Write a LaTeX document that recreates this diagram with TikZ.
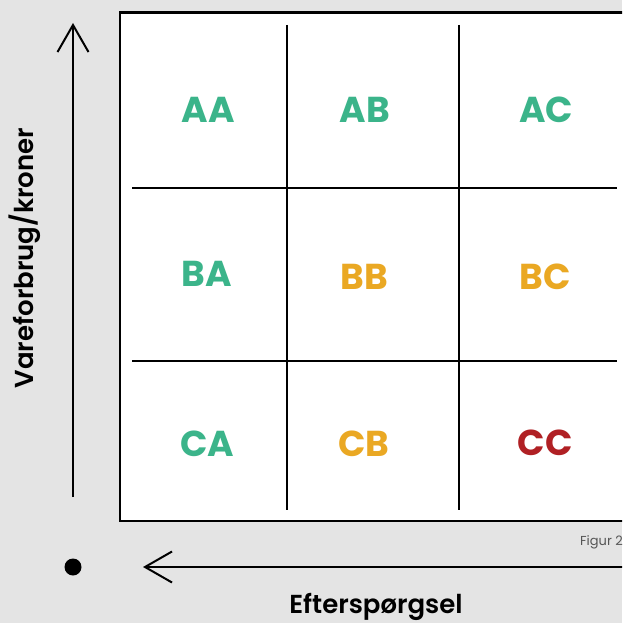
\documentclass[tikz,border=0pt]{standalone}
\usepackage{fontspec}
\setmainfont{Poppins}[BoldFont={Poppins SemiBold}]
\newfontfamily\heavyfont{Poppins}[UprightFont={* Bold}]
\usetikzlibrary{arrows.meta}
\definecolor{bggray}{HTML}{E4E4E4}
\definecolor{cgreen}{HTML}{3BB48A}
\definecolor{corange}{HTML}{EAA823}
\definecolor{cred}{HTML}{B02024}
\definecolor{capgray}{HTML}{555555}
\tikzset{
  cell/.style={font=\fontsize{36}{36}\selectfont\heavyfont, inner sep=0pt},
  grid/.style={line width=2pt, black},
  axis/.style={line width=2pt, black, -{Straight Barb[length=27pt,width=31pt,line width=2pt]}},
  axislabel/.style={font=\fontsize{26}{26}\selectfont\bfseries, inner sep=0pt},
}
\begin{document}
\begin{tikzpicture}[x=1pt,y=-1pt]
  % background and bounds
  \fill[bggray] (0,0) rectangle (622,623);
  \useasboundingbox (0,0) rectangle (622,623);
  \begin{scope}
    \clip (0,0) rectangle (622,623);
    % matrix frame
    \draw[line width=2.3pt, fill=white] (120,12.5) rectangle (630,521);
  \end{scope}
  % grid lines
  \coordinate (v1t) at (287,25);  \coordinate (v1b) at (287,510);
  \coordinate (v2t) at (459,25);  \coordinate (v2b) at (459,510);
  \coordinate (h1l) at (132,188); \coordinate (h1r) at (617,188);
  \coordinate (h2l) at (132,361); \coordinate (h2r) at (617,361);
  \draw[grid] (v1t) -- (v1b);
  \draw[grid] (v2t) -- (v2b);
  \draw[grid] (h1l) -- (h1r);
  \draw[grid] (h2l) -- (h2r);
  % cell labels
  \node[cell, text=cgreen]  (AA) at (208,110) {AA};
  \node[cell, text=cgreen]  (AB) at (365,110) {AB};
  \node[cell, text=cgreen]  (AC) at (546,110) {AC};
  \node[cell, text=cgreen]  (BA) at (207,274) {BA};
  \node[cell, text=corange] (BB) at (364,277) {BB};
  \node[cell, text=corange] (BC) at (545,277) {BC};
  \node[cell, text=cgreen]  (CA) at (207,444) {CA};
  \node[cell, text=corange] (CB) at (364,444) {CB};
  \node[cell, text=cred]    (CC) at (545,443) {CC};
  % axes
  \node[circle, fill=black, minimum size=17pt, inner sep=0pt] (origin) at (73,567) {};
  \coordinate (ytail) at (73,497);
  \coordinate (ytip) at (73,23);
  \coordinate (xtail) at (630,567);
  \coordinate (xtip) at (143,567);
  \draw[axis] (ytail) -- (ytip);
  \begin{scope}
    \clip (0,0) rectangle (622,623);
    \draw[axis] (xtail) -- (xtip);
  \end{scope}
  \node[axislabel, rotate=90] (ylabel) at (25,258) {Vareforbrug/kroner};
  \node[axislabel] (xlabel) at (376,607) {Efterspørgsel};
  \node[font=\fontsize{13}{13}\selectfont, text=capgray, anchor=east, inner sep=0pt] (fig) at (623,542) {Figur 2};
\end{tikzpicture}
\end{document}
